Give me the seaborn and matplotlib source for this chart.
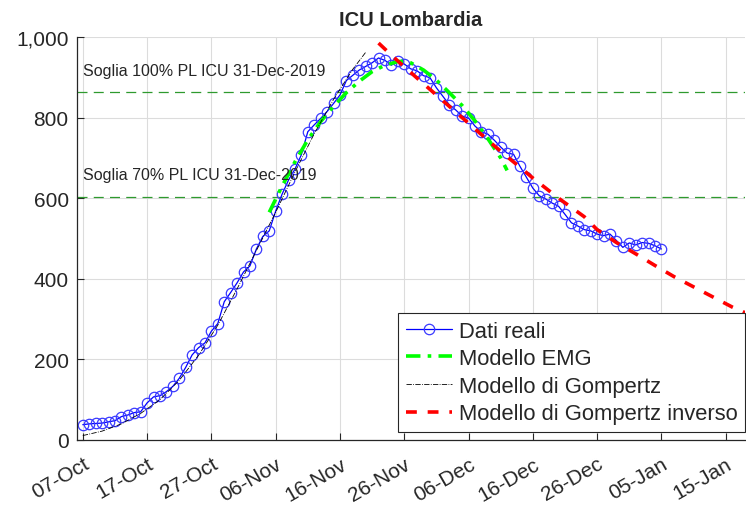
import numpy as np
import pandas as pd
import seaborn as sns
import matplotlib.pyplot as plt
import matplotlib.dates as mdates

# Data (days counted from 07-Oct-2020)
start = pd.Timestamp('2020-10-07')

icu_real = [38, 40, 41, 42, 45, 48, 58, 62, 68, 70,
            92, 107, 110, 120, 133, 153, 180, 211, 229, 241,
            270, 289, 343, 366, 390, 417, 432, 474, 505, 519,
            568, 610, 645, 672, 708, 765, 782, 798, 815, 835,
            856, 892, 905, 918, 927, 936, 948, 942, 930, 940,
            933, 921, 916, 904, 899, 874, 853, 832, 819, 804,
            799, 779, 765, 759, 744, 727, 712, 709, 679, 652,
            625, 606, 598, 588, 580, 560, 539, 531, 522, 519,
            511, 507, 511, 495, 478, 489, 484, 490, 488, 482, 474]

emg_days = [29, 31, 33, 35, 37, 39, 41, 43, 45, 47, 49, 50, 51, 53, 55, 57, 59, 61, 63, 65, 66]
emg_vals = [565, 630, 690, 745, 790, 828, 862, 890, 914, 930, 939, 940, 936, 918, 893, 862, 830, 792, 748, 700, 669]

gomp_days = [0, 3, 6, 9, 12, 15, 18, 21, 24, 27, 30, 33, 36, 39, 42, 44]
gomp_vals = [11, 22, 40, 66, 100, 148, 210, 285, 375, 470, 565, 665, 760, 845, 920, 962]

inv_days = [46, 48, 50, 52, 54, 56, 58, 60, 62, 64, 66, 68, 70, 72, 74, 76, 78, 80, 83, 86, 89, 92, 95, 98, 101, 103]
inv_vals = [985, 955, 926, 898, 870, 842, 814, 786, 758, 730, 703, 677, 650, 625, 600, 577, 554, 522, 490, 462, 433, 405, 380, 355, 330, 316]

soglia_100 = 863
soglia_70 = 604


def to_df(days, vals):
    return pd.DataFrame({'data': start + pd.to_timedelta(days, unit='D'), 'val': vals})


df_real = to_df(list(range(len(icu_real))), icu_real)
df_emg = to_df(emg_days, emg_vals)
df_gomp = to_df(gomp_days, gomp_vals)
df_inv = to_df(inv_days, inv_vals)

sns.set_style('whitegrid')
plt.rcParams['font.family'] = ['Liberation Sans', 'DejaVu Sans']

fig = plt.figure(figsize=(7.46, 5.06), dpi=100)
ax = fig.add_axes([77 / 746, 65 / 506, 668 / 746, 403 / 506])

sns.lineplot(data=df_real, x='data', y='val', ax=ax, color='#0000ff', lw=0.9,
             marker='o', markersize=7.5, markerfacecolor='none', markeredgecolor='#3a3aff',
             markeredgewidth=0.9, label='Dati reali')
sns.lineplot(data=df_emg, x='data', y='val', ax=ax, color='#00ff00', lw=2.6,
             linestyle=(0, (4, 2, 1, 2)), label='Modello EMG')
sns.lineplot(data=df_gomp, x='data', y='val', ax=ax, color='black', lw=0.6,
             linestyle='-.', label='Modello di Gompertz')
sns.lineplot(data=df_inv, x='data', y='val', ax=ax, color='red', lw=2.6,
             linestyle=(0, (3, 3)), label='Modello di Gompertz inverso')

# soglie posti letto
ax.axhline(soglia_100, color='#2e9a2e', lw=0.9, ls=(0, (8, 5)), zorder=1)
ax.axhline(soglia_70, color='#2e9a2e', lw=0.9, ls=(0, (8, 5)), zorder=1)
ax.text(start, soglia_100 + 36, 'Soglia 100% PL ICU 31-Dec-2019', fontsize=11.5, va='bottom')
ax.text(start, soglia_70 + 36, 'Soglia 70% PL ICU 31-Dec-2019', fontsize=11.5, va='bottom')

ax.set_xlim(start - pd.Timedelta(days=0.9), start + pd.Timedelta(days=103))
ax.set_ylim(0, 1000)
ax.set_yticks([0, 200, 400, 600, 800, 1000])
ax.set_yticklabels(['0', '200', '400', '600', '800', '1,000'])
ticks = [start + pd.Timedelta(days=10 * i) for i in range(11)]
ax.set_xticks(ticks)
ax.xaxis.set_major_formatter(mdates.DateFormatter('%d-%b'))
plt.setp(ax.get_xticklabels(), rotation=30, ha='right', rotation_mode='anchor')
ax.tick_params(axis='both', labelsize=15, direction='in', length=5, width=0.8,
               bottom=True, left=True, colors='#262626')
ax.tick_params(axis='x', pad=10)
ax.tick_params(axis='y', pad=6)

ax.grid(True, color='#dcdcdc', lw=0.8)
for s in ['top', 'right']:
    ax.spines[s].set_visible(False)
for s in ['left', 'bottom']:
    ax.spines[s].set_color('#262626')
    ax.spines[s].set_linewidth(0.9)

ax.set_xlabel('')
ax.set_ylabel('')
ax.set_title('ICU Lombardia', fontsize=14.5, fontweight='bold', pad=9)

leg = ax.legend(loc='lower right', fontsize=15.8, frameon=True, fancybox=False,
                edgecolor='#262626', framealpha=1, borderpad=0.35, labelspacing=0.3,
                handlelength=2.1, handletextpad=0.3, borderaxespad=0.0,
                bbox_to_anchor=(1.0, 0.02))
leg.get_frame().set_linewidth(0.8)

fig.savefig('out.png', dpi=100)
